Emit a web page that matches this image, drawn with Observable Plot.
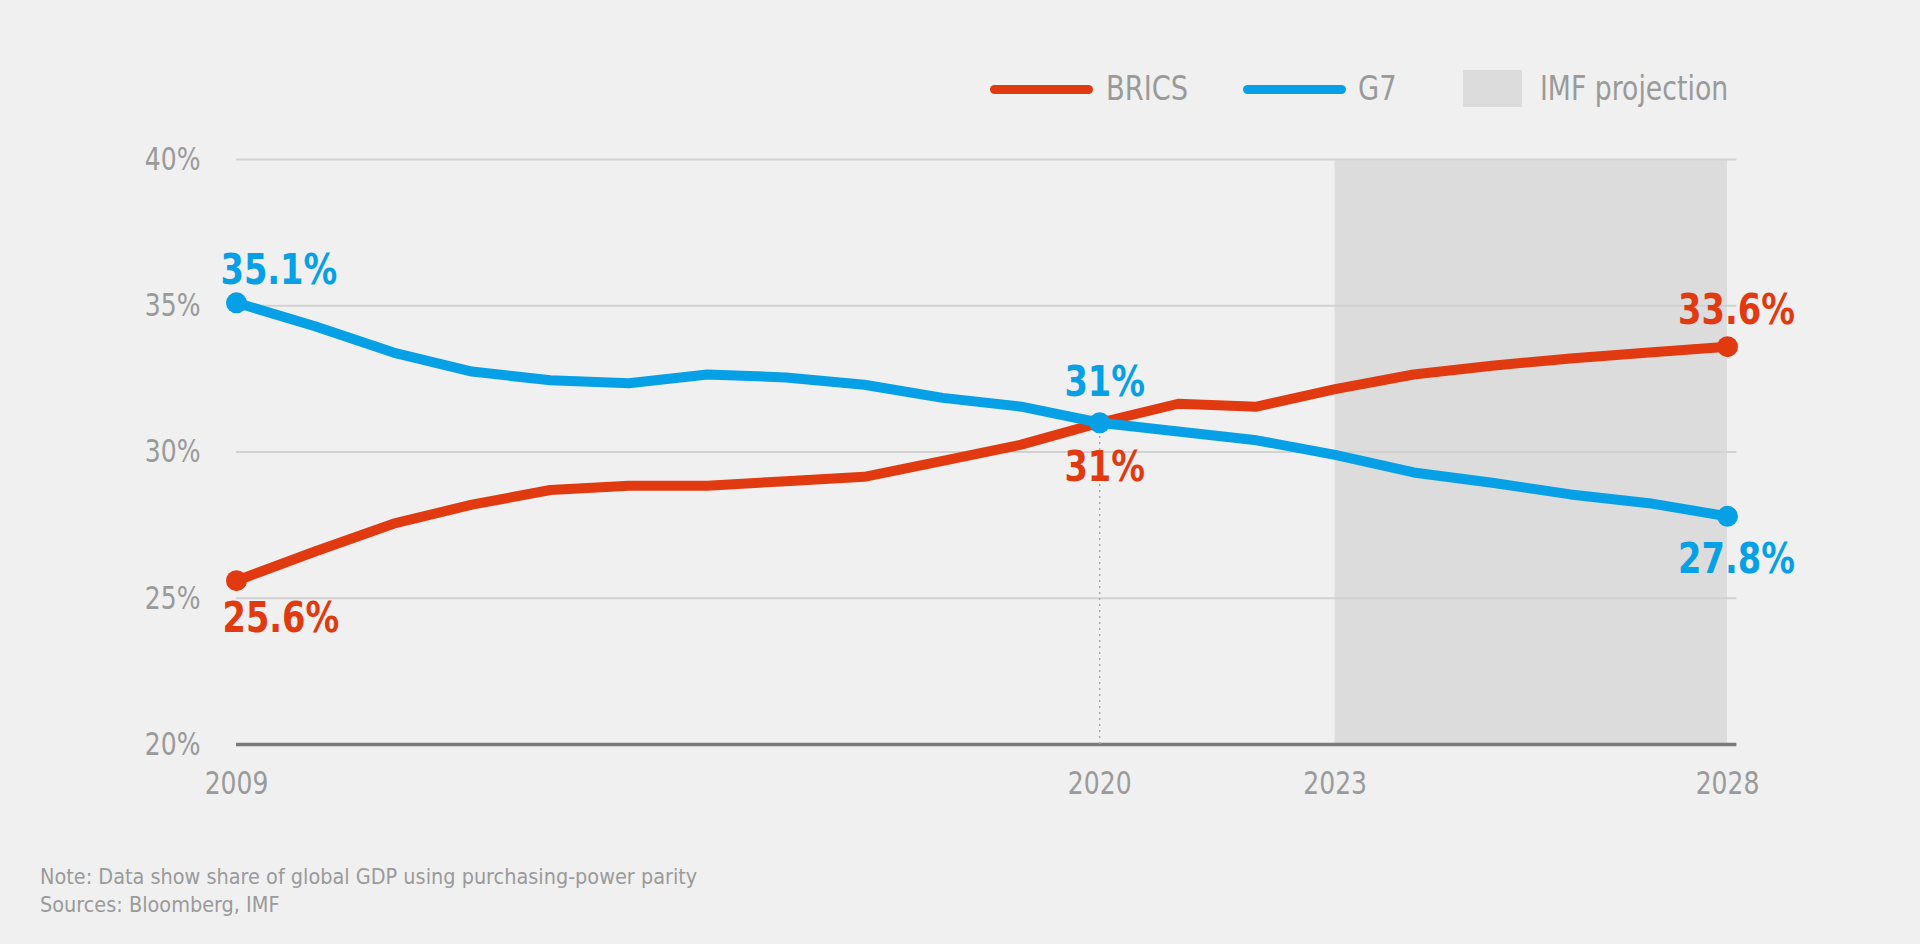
<!DOCTYPE html>
<html>
<head>
<meta charset="utf-8">
<script src="https://cdn.jsdelivr.net/npm/d3@7"></script>
<script src="https://cdn.jsdelivr.net/npm/@observablehq/plot@0.6"></script>
<style>
  html, body { margin: 0; padding: 0; background: #f0f0f0; }
  body { width: 1920px; height: 944px; overflow: hidden; font-family: "DejaVu Sans Condensed", "DejaVu Sans", sans-serif; color: #999; }
  #legend { position: relative; height: 130px; }
  #legend .swline { position: absolute; top: 85px; width: 103px; height: 9px; border-radius: 5px; }
  #legend .swrect { position: absolute; top: 70px; width: 59px; height: 37px; background: #dcdcdc; }
  #legend .lab { position: absolute; top: 69px; line-height: 40px; font-size: 33px; color: #9a9a9a; white-space: nowrap; transform-origin: left center; }
  #note { margin-top: 33px; padding-left: 40px; font-size: 22px; line-height: 28px; color: #9a9a9a; }
  #note div { transform-origin: left center; transform: scaleX(0.975); }
  svg { display: block; }
</style>
</head>
<body>
<div id="legend"></div>
<div id="chart"></div>
<div id="note"></div>
<script>
const years = [2009, 2010, 2011, 2012, 2013, 2014, 2015, 2016, 2017, 2018, 2019, 2020, 2021, 2022, 2023, 2024, 2025, 2026, 2027, 2028];
const brics = [25.6, 26.6, 27.55, 28.2, 28.7, 28.85, 28.85, 29.0, 29.15, 29.7, 30.25, 31.0, 31.65, 31.55, 32.15, 32.65, 32.95, 33.2, 33.4, 33.6];
const g7    = [35.1, 34.3, 33.4, 32.75, 32.45, 32.35, 32.65, 32.55, 32.3, 31.85, 31.55, 31.0, 30.7, 30.4, 29.9, 29.3, 28.95, 28.55, 28.25, 27.8];
const seriesNames = ["BRICS", "G7"];
const seriesColors = ["#e23a10", "#06a0e6"];
const xTicks = [2009, 2020, 2023, 2028];
const yTicks = [20, 25, 30, 35, 40];
const projection = [2023, 2028];
const crossYear = 2020;
const noteLines = ["Note: Data show share of global GDP using purchasing-power parity", "Sources: Bloomberg, IMF"];
const legendExtra = "IMF projection";

const rows = [];
years.forEach((y, i) => {
  rows.push({series: "BRICS", year: y, value: brics[i]});
  rows.push({series: "G7", year: y, value: g7[i]});
});
const bricsRows = rows.filter(d => d.series === "BRICS");
const g7Rows = rows.filter(d => d.series === "G7");
const first = years[0], last = years[years.length - 1];
const at = (arr, yr) => arr.filter(d => d.year === yr);
const fmt = d => `${d.value}%`;
const font = '"DejaVu Sans Condensed", "DejaVu Sans", sans-serif';

// legend (HTML, above the SVG)
const legend = document.getElementById("legend");
function addEl(cls, left, html, style) {
  const el = document.createElement("div");
  el.className = cls;
  el.style.left = left + "px";
  if (html) el.textContent = html;
  if (style) Object.assign(el.style, style);
  legend.appendChild(el);
  return el;
}
addEl("swline", 990, null, {background: seriesColors[0]});
addEl("lab", 1106, seriesNames[0], {transform: "scaleX(0.92)"});
addEl("swline", 1243, null, {background: seriesColors[1]});
addEl("lab", 1358, seriesNames[1], {transform: "scaleX(0.92)"});
addEl("swrect", 1463);
addEl("lab", 1540, legendExtra, {transform: "scaleX(0.9)"});

const labelStyle = {fontSize: 43, fontWeight: "bold", fontFamily: font, text: fmt};

const chart = Plot.plot({
  width: 1920,
  height: 700,
  marginTop: 29,
  marginBottom: 86,
  marginLeft: 236,
  marginRight: 193,
  style: {background: "transparent", fontFamily: font},
  x: {domain: [first, last]},
  y: {domain: [20, 40]},
  marks: [
    Plot.rect([projection], {x1: d => d[0], x2: d => d[1], y1: 20, y2: 40, fill: "#dcdcdc"}),
    Plot.ruleY(yTicks.slice(1), {x1: first, x2: last + 0.12, stroke: "#d2d2d2", strokeWidth: 2}),
    Plot.ruleY([20], {x1: first, x2: last + 0.12, stroke: "#7a7a7a", strokeWidth: 3.5}),
    Plot.ruleX([crossYear], {y1: 20, y2: at(g7Rows, crossYear)[0].value, stroke: "#aaa", strokeWidth: 1.5, strokeDasharray: "2,4"}),
    Plot.axisY({ticks: yTicks, tickFormat: d => `${d}%`, tickSize: 0, tickPadding: 36, fontSize: 32, color: "#9a9a9a", label: null}),
    Plot.axisX({ticks: xTicks, tickFormat: d => String(d), tickSize: 0, tickPadding: 27, fontSize: 32, color: "#9a9a9a", label: null}),
    Plot.line(bricsRows, {x: "year", y: "value", stroke: seriesColors[0], strokeWidth: 10, strokeLinejoin: "round", strokeLinecap: "round"}),
    Plot.line(g7Rows, {x: "year", y: "value", stroke: seriesColors[1], strokeWidth: 10, strokeLinejoin: "round", strokeLinecap: "round"}),
    Plot.dot([...at(bricsRows, first), ...at(bricsRows, last)], {x: "year", y: "value", r: 10.5, fill: seriesColors[0]}),
    Plot.dot([...at(g7Rows, first), ...at(g7Rows, crossYear), ...at(g7Rows, last)], {x: "year", y: "value", r: 10.5, fill: seriesColors[1]}),
    Plot.text(at(g7Rows, first), {x: "year", y: "value", ...labelStyle, fill: seriesColors[1], textAnchor: "start", dx: -16, dy: -33}),
    Plot.text(at(bricsRows, first), {x: "year", y: "value", ...labelStyle, fill: seriesColors[0], textAnchor: "start", dx: -14, dy: 38}),
    Plot.text(at(g7Rows, crossYear), {x: "year", y: "value", ...labelStyle, fill: seriesColors[1], dx: 5, dy: -41}),
    Plot.text(at(bricsRows, crossYear), {x: "year", y: "value", ...labelStyle, fill: seriesColors[0], dx: 5, dy: 44}),
    Plot.text(at(bricsRows, last), {x: "year", y: "value", ...labelStyle, fill: seriesColors[0], dx: 9, dy: -36}),
    Plot.text(at(g7Rows, last), {x: "year", y: "value", ...labelStyle, fill: seriesColors[1], dx: 9, dy: 43})
  ]
});
document.getElementById("chart").appendChild(chart);

// condense the SVG text horizontally around each text's anchor point
chart.querySelectorAll("text").forEach(t => {
  const tr = t.getAttribute("transform") || "";
  t.setAttribute("transform", (tr + " scale(0.87,1)").trim());
});

document.getElementById("note").innerHTML = noteLines.map(l => `<div>${l}</div>`).join("");
</script>
</body>
</html>
